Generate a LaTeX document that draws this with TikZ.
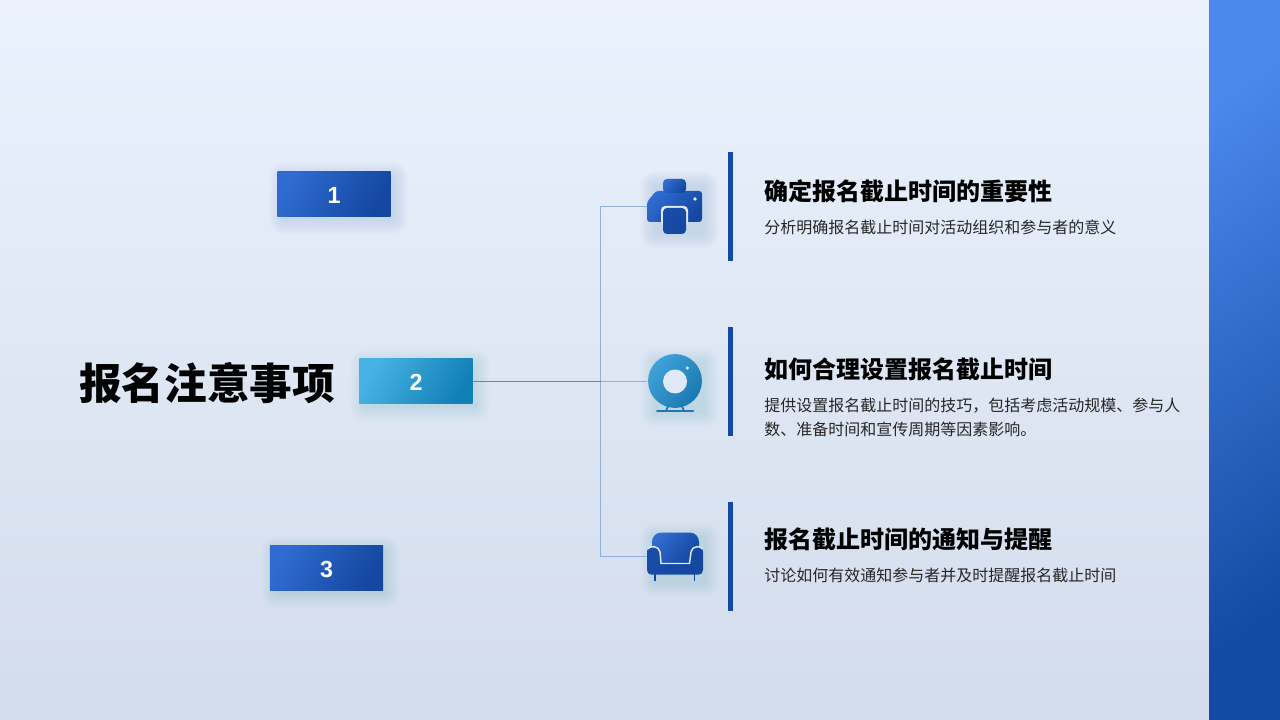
\documentclass[tikz,border=0pt]{standalone}
\usepackage{fontspec}
\setmainfont{Noto Sans CJK SC}
\newfontfamily\numfont{Liberation Sans}
\usetikzlibrary{calc}
\definecolor{bgtop}{HTML}{EBF2FE}
\definecolor{bgbot}{HTML}{D3DCEB}
\definecolor{bandA}{HTML}{4B88EC}
\definecolor{bandB}{HTML}{134AA2}
\definecolor{blueA}{HTML}{2F6BD0}
\definecolor{blueM}{HTML}{174CA9}
\definecolor{blueB}{HTML}{1447A0}
\definecolor{tealA}{HTML}{47B2E4}
\definecolor{tealM}{HTML}{1C8DC3}
\definecolor{tealB}{HTML}{1180B6}
\definecolor{camA}{HTML}{3FA2D8}
\definecolor{camB}{HTML}{1B78B0}
\definecolor{barblue}{HTML}{1549A6}
\definecolor{linkc}{HTML}{8FB0DC}
\definecolor{linkd}{HTML}{5F86C2}
\definecolor{outl}{HTML}{DFE8F7}
\definecolor{glowc}{HTML}{2F62C4}
\definecolor{glowt}{HTML}{1E7FB8}
\definecolor{bodyc}{HTML}{262626}
\newcommand{\softglow}[5]{%
  \foreach \r in {1,2,...,15}{%
    \fill[#5,opacity=0.006,rounded corners=\r*0.75pt] ($(#1,#2)+(-\r,-\r)$) rectangle ($(#3,#4)+(\r,\r)$);
  }%
}
\tikzset{
  x=0.75pt,y=-0.75pt,
  numbox/.style={rectangle,inner sep=0pt,minimum width=85pt,minimum height=33.8pt,text=white,font=\numfont\fontsize{17.5}{20}\selectfont\bfseries},
  boxblue/.style={numbox,left color=blueA,middle color=blueM,right color=blueB,shading angle=60},
  boxteal/.style={numbox,left color=tealA,middle color=tealM,right color=tealB,shading angle=60},
  digit/.style={inner sep=0pt,text=white,font=\numfont\fontsize{17.5}{20}\selectfont\bfseries},
  heading/.style={anchor=west,inner sep=0pt,text=black,font=\fontsize{18}{22}\selectfont\bfseries},
  bodytext/.style={anchor=west,inner sep=0pt,text=bodyc,align=left,font=\fontsize{12}{18}\selectfont},
  accent/.style={fill=barblue,draw=none},
  link/.style={draw=linkc,line width=0.6pt},
  iconbox/.style={inner sep=0pt,minimum width=42pt,minimum height=42pt},
  iconblue/.style={left color=blueA,middle color=blueM,right color=blueB,shading angle=50},
  iconteal/.style={left color=camA,right color=camB,shading angle=50},
}
\begin{document}
\begin{tikzpicture}
\useasboundingbox (0,0) rectangle (1280,720);
\path[top color=bgtop,bottom color=bgbot] (0,0) rectangle (1280,720);
% side band
\path[left color=bandA,right color=bandB,shading angle=35] (1209,0) rectangle (1280,720);
% glows
\softglow{284}{177}{393}{219}{glowc}
\softglow{365}{364}{475}{406}{glowt}
\softglow{276}{551}{385}{593}{glowc}
\softglow{655}{186}{704}{234}{glowc}
\softglow{655}{362}{704}{412}{glowt}
\softglow{655}{538}{705}{582}{glowc}
% boxes
\node[boxblue] (box1) at (334,194) {};
\node[digit] (num1) at (334,195) {1};
\node[boxteal] (box2) at (416,381) {};
\node[digit] (num2) at (416,382) {2};
\node[boxblue] (box3) at (326.5,568) {};
\node[digit] (num3) at (326.5,569) {3};
% icon anchors
\node[iconbox] (icon1) at (675,206) {};
\node[iconbox] (icon2) at (675,381) {};
\node[iconbox] (icon3) at (675,556) {};
\coordinate (junction) at (600.5,381);
% connectors
\draw[link] (icon1.west) -- (icon1.west -| junction) -- (icon3.west -| junction) -- (icon3.west);
\draw[link] (junction) -- (icon2.west);
\draw[draw=linkd,line width=0.7pt] (box2.east) -- (junction);
% printer
\path[iconblue,rounded corners=2.2pt] (658,191) -- (702,191) -- (702,222) -- (647,222) -- (647,202) -- (656,191) -- cycle;
\path[iconblue,rounded corners=3pt] (663,179) rectangle (686,193);
\fill[outl,rounded corners=3pt] (661,206) rectangle (688,226);
\path[left color=blueM,right color=blueB,shading angle=50,rounded corners=3pt] (663,208) rectangle (686,234);
\fill[outl] (695,199) circle[radius=1.4pt];
% webcam
\path[iconteal] (675,381) circle[radius=20.2pt];
\fill[outl] (675,381.5) circle[radius=9pt];
\fill[outl] (687.3,368) circle[radius=1.3pt];
\draw[camB,line width=1.3pt] (668.5,405) -- (666,411);
\draw[camB,line width=1.3pt] (681.5,405) -- (684,411);
\draw[camB,line width=1.5pt,line cap=round] (657,411) -- (693,411);
% sofa
\path[iconblue,rounded corners=7pt] (652,564) -- (652,532.5) -- (699,532.5) -- (699,564) -- cycle;
\draw[blueB,line width=1.4pt] (655,574) -- (655,581);
\draw[blueB,line width=1.4pt] (694.5,574) -- (694.5,581);
\path[left color=blueM,right color=blueB,shading angle=50] (647,552) .. controls (647,545) and (659,545) .. (660,552) -- (661,563.5) -- (689.5,563.5) -- (691,552) .. controls (692,545) and (703,545) .. (703,552) -- (703,570) .. controls (703,573) and (701,574.5) .. (699,574.5) -- (651,574.5) .. controls (649,574.5) and (647,573) .. (647,570) -- cycle;
\draw[outl,line width=1.1pt] (647.5,549) .. controls (650,545.5) and (659,545.5) .. (660,552) -- (661,563.5) -- (689.5,563.5) -- (691,552) .. controls (692,545.5) and (701,545.5) .. (702.5,549);
% accent bars
\node[accent,inner sep=0pt,minimum width=3.75pt,minimum height=82pt] (bar1) at (730.5,206.5) {};
\node[accent,inner sep=0pt,minimum width=3.75pt,minimum height=82pt] (bar2) at (730.5,381.5) {};
\node[accent,inner sep=0pt,minimum width=3.75pt,minimum height=82pt] (bar3) at (730.5,556.5) {};
% text
\node[anchor=west,inner sep=0pt,text=black,font=\fontsize{32}{38}\selectfont\bfseries] (title) at (79,383) {报名注意事项};
\node[heading] (h1) at (764,191) {确定报名截止时间的重要性};
\node[bodytext] (t1) at (764,227) {分析明确报名截止时间对活动组织和参与者的意义};
\node[heading] (h2) at (764,369) {如何合理设置报名截止时间};
\node[bodytext] (t2) at (764,417.5) {提供设置报名截止时间的技巧，包括考虑活动规模、参与人\\数、准备时间和宣传周期等因素影响。};
\node[heading] (h3) at (764,539) {报名截止时间的通知与提醒};
\node[bodytext] (t3) at (764,575) {讨论如何有效通知参与者并及时提醒报名截止时间};
\end{tikzpicture}
\end{document}
